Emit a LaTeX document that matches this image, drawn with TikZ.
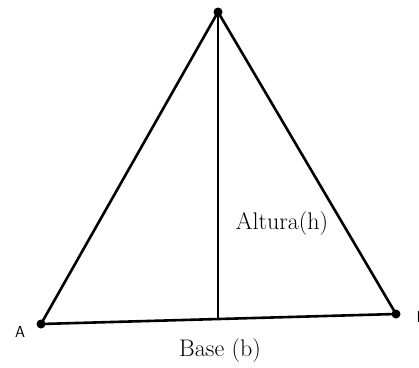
\documentclass[tikz,border=0pt]{standalone}
\usepackage{tikz}

\begin{document}
\begin{tikzpicture}[x=1pt, y=-1pt, line width=2.6pt,
    dot/.style={circle, fill=black, inner sep=0pt, minimum size=9pt},
    vlabel/.style={font=\sffamily\fontsize{16}{19}\selectfont},
    mlabel/.style={font=\fontsize{24}{28}\selectfont}]

        \useasboundingbox (0,0) rectangle (419,367);

        \node[dot] (top) at (218,12) {};
        \node[dot] (A) at (41,324) {};
        \node[dot] (B) at (396,314) {};
        \coordinate (foot) at (218,320);

        \draw (A.center) -- (top.center) -- (B.center) -- cycle;

        \draw (top.center) -- (foot);

        \node[vlabel] (labA) at (20,332) {A};
        \node[vlabel, anchor=west] (labB) at (412,317) {B};

        \node[mlabel] (altura) at (282,224) {Altura(h)};
        \node[mlabel] (base) at (220,351) {Base (b)};

    \end{tikzpicture}
\end{document}
